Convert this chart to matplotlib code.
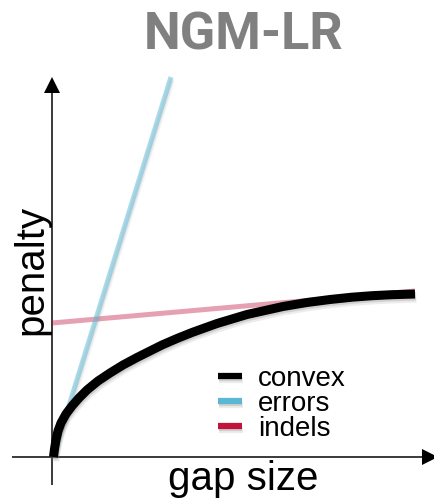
import matplotlib
matplotlib.use("Agg")
import matplotlib.pyplot as plt
import matplotlib.patheffects as pe
from matplotlib.lines import Line2D
from matplotlib.patches import FancyArrow

# gap penalty curves (x: gap size, y: penalty), arbitrary units
convex_gap = [0.15, 0.25, 0.4, 0.6, 0.9, 1.4, 2.0, 2.7, 3.5, 4.6, 5.8, 7.1, 8.5,
              9.8, 11.0, 12.5, 14.0, 16.5, 19.5, 23.1, 25.5, 27.8, 30.0, 32.0, 34.0, 36.3]
convex_pen = [0.0, 0.8, 1.7, 2.6, 3.4, 4.3, 5.1, 5.9, 6.7, 7.6, 8.4, 9.2, 9.95,
              10.6, 11.2, 11.85, 12.45, 13.35, 14.25, 15.05, 15.45, 15.75, 15.98, 16.13, 16.23, 16.3]
errors_gap = [0.1, 11.9]
errors_pen = [0.0, 38.0]
indels_gap = [0.0, 36.3]
indels_pen = [13.4, 16.6]

labels = ["convex", "errors", "indels"]
colors = ["#000000", "#5bb8d4", "#c0143c"]

W, H = 434, 503
fig = plt.figure(figsize=(W / 100, H / 100), dpi=100)
ax = fig.add_axes([0, 0, 1, 1])
# 10 px per unit on both axes, origin at (52, 457) px
ax.set_xlim(-5.2, 38.2)
ax.set_ylim(-4.6, 45.7)
ax.axis("off")

label_font = "Liberation Sans"


def soft_shadow(alpha):
    return [pe.SimpleLineShadow(offset=(0.5, -1.5), shadow_color="gray", alpha=alpha),
            pe.SimpleLineShadow(offset=(1.0, -3.0), shadow_color="gray", alpha=alpha * 0.6),
            pe.Normal()]


# axes with arrow heads (the x head runs off the right edge)
head = dict(width=0.15, head_width=1.6, head_length=1.6, length_includes_head=True,
            color="black", lw=0, clip_on=False, zorder=1)
ax.add_patch(FancyArrow(-4.0, 0, 42.6, 0, **head))
ax.add_patch(FancyArrow(0, -2.8, 0, 40.8, **head))

ax.plot(indels_gap, indels_pen, color=colors[2], alpha=0.4, lw=3.6,
        solid_capstyle="butt", zorder=2)
ax.plot(errors_gap, errors_pen, color=colors[1], alpha=0.5, lw=3.6,
        solid_capstyle="butt", zorder=3, path_effects=soft_shadow(0.12))
ax.plot(convex_gap, convex_pen, color=colors[0], lw=6.5, solid_capstyle="butt",
        solid_joinstyle="round", zorder=4, path_effects=soft_shadow(0.25))

handles = [Line2D([], [], color=c, lw=4.5, solid_capstyle="butt",
                  path_effects=soft_shadow(0.25)) for c in colors]
ax.legend(handles, labels, loc="upper left", bbox_to_anchor=(218 / W, 1 - 366 / H),
          bbox_transform=fig.transFigure, frameon=False, borderpad=0, borderaxespad=0,
          handlelength=0.85, handletextpad=0.6, labelspacing=-0.04,
          prop={"family": label_font, "size": 20})

ax.text(-2.1, 18.7, "penalty", rotation=90, ha="center", va="center",
        family=label_font, fontsize=29)
ax.text(19.1, -3.3, "gap size", ha="center", va="baseline",
        family=label_font, fontsize=29)

fig.text(244 / W, 1 - 49 / H, "NGM-LR", ha="center", va="baseline",
         family="Roboto", fontweight="bold", fontsize=37.5, color="#808080")

fig.savefig("out.png", dpi=100)
